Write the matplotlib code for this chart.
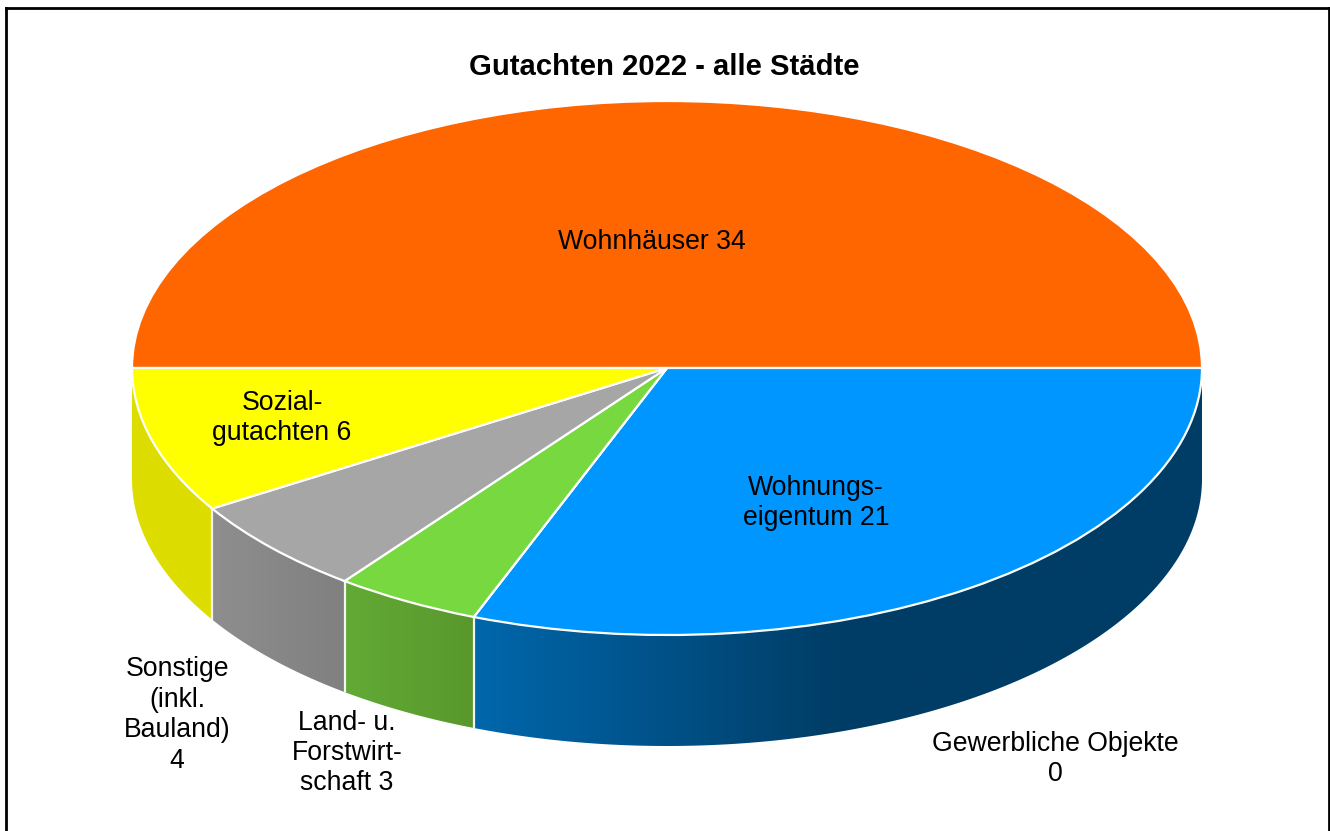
import numpy as np
import matplotlib
matplotlib.use("Agg")
import matplotlib.pyplot as plt
from matplotlib.colors import LinearSegmentedColormap
from matplotlib.patches import Polygon

plt.rcParams['font.family'] = ['Liberation Sans', 'DejaVu Sans']

# ---- data ----
title = "Gutachten 2022 - alle Städte"
categories = ["Wohnhäuser", "Wohnungseigentum", "Gewerbliche Objekte",
              "Land- u. Forstwirtschaft", "Sonstige (inkl. Bauland)", "Sozialgutachten"]
values = [34, 21, 0, 3, 4, 6]
labels = ["Wohnhäuser 34", "Wohnungs-\neigentum 21", "Gewerbliche Objekte\n0",
          "Land- u.\nForstwirt-\nschaft 3", "Sonstige\n(inkl.\nBauland)\n4", "Sozial-\ngutachten 6"]
top_colors = ["#FF6600", "#0096FF", "#C00000", "#77D93F", "#A6A6A6", "#FFFF00"]
side_stops = [None,
              [(0, "#0067AC"), (0.5, "#003D66"), (1, "#003D66")],
              None,
              [(0, "#62AA36"), (1, "#59982C")],
              [(0, "#8E8E8E"), (1, "#808080")],
              [(0, "#DDDD00"), (1, "#DDDD00")]]
label_px = [(652, 242), (816, 503), (1055, 759), (347, 753), (177, 715), (282, 418)]

# ---- layout in pixels ----
W, H = 1330, 831
CX, CY, RX, RY, DEPTH = 667, 368, 535, 267, 111

fig = plt.figure(figsize=(W / 100, H / 100), dpi=100, facecolor="white")
ax = fig.add_axes([0, 0, 1, 1])
xlim = (-CX / RX, (W - CX) / RX)
ylim = ((CY - H) / RY, CY / RY)
d = DEPTH / RY

# top face
ax.pie(values, colors=top_colors, startangle=180, counterclock=False, radius=1,
       wedgeprops=dict(edgecolor="white", linewidth=1.6, zorder=5))
ax.set_aspect("auto")

# side walls, from the same cumulative angles as the pie
angles = 180 - np.concatenate([[0], np.cumsum(values)]) * 360 / sum(values)
for i, stops in enumerate(side_stops):
    if stops is None or values[i] == 0:
        continue
    t = np.radians(np.linspace(angles[i], angles[i + 1], 200))
    x, y = np.cos(t), np.sin(t)
    pts = np.r_[np.c_[x, y], np.c_[x[::-1], y[::-1] - d]]
    poly = Polygon(pts, closed=True, transform=ax.transData, facecolor="none", edgecolor="none")
    ax.add_patch(poly)
    cmap = LinearSegmentedColormap.from_list(f"side{i}", stops)
    im = ax.imshow(np.linspace(0, 1, 256)[None, :], cmap=cmap, aspect="auto", vmin=0, vmax=1,
                   extent=(x.min(), x.max(), y.min() - d, y.max()), zorder=2)
    im.set_clip_path(poly)
    # light vertical seam at the wedge's clockwise end
    if i < len(values) - 1:
        ax.plot([x[-1], x[-1]], [y[-1], y[-1] - d], color="#F4F4F4", lw=1.6, zorder=3,
                solid_capstyle="butt")

ax.set_xlim(*xlim)
ax.set_ylim(*ylim)
ax.axis("off")

def fx(px): return px / W
def fy(py): return 1 - py / H

fig.text(fx(664), fy(67), title, ha="center", va="center", fontsize=21.1, fontweight="bold", color="black")
for lab, (px, py) in zip(labels, label_px):
    fig.text(fx(px), fy(py), lab, ha="center", va="center", fontsize=19.2,
             color="black", linespacing=1.22, zorder=10)

# outer frame (open at the bottom edge of the image)
for xs, ys in [((6, 6), (8, H)), ((6, 1329), (8, 8)), ((1329, 1329), (8, H))]:
    fig.add_artist(plt.Line2D([fx(v) for v in xs], [fy(v) for v in ys], color="black", lw=2.0))

fig.savefig("out.png", dpi=100, facecolor="white")
